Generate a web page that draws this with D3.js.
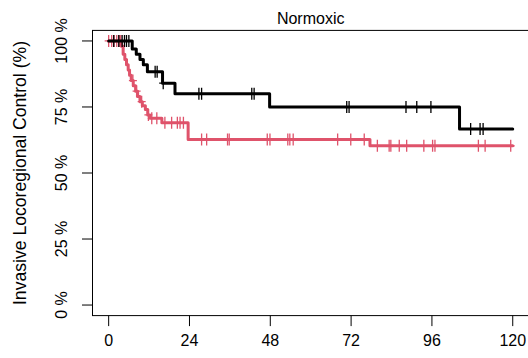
<!DOCTYPE html>
<html>
<head>
<meta charset="utf-8">
<script src="https://cdn.jsdelivr.net/npm/d3@7"></script>
<style>
html,body{margin:0;padding:0;background:#fff;}
svg{display:block;font-family:"Liberation Sans",Arial,sans-serif;}
</style>
</head>
<body>
<svg id="chart" width="528" height="358"></svg>
<script>
// ---- data (months, survival fraction) ----
const title = "Normoxic";
const yTitle = "Invasive Locoregional Control (%)";
const xTicks = [0, 24, 48, 72, 96, 120];
const yTicks = [0, 0.25, 0.5, 0.75, 1];
const yTickLabels = ["0 %", "25 %", "50 %", "75 %", "100 %"];

// black group: event steps [time, survival after step]
const blackSteps = [[0,1],[7.0,0.97],[8.2,0.95],[9.3,0.93],[10.3,0.91],[11.5,0.883],[16.0,0.84],[19.7,0.80],[47.8,0.75],[104.2,0.667],[120,0.667]];
const blackCensor = [1.5,3.0,4.0,4.7,5.3,6.0,13.8,14.4,16.2,26.8,27.6,42.5,43.2,70.7,71.4,88.3,91.5,95.7,107.5,110.3,111.2];

// red group
const redSteps = [[0,1],[3.8,0.98],[4.3,0.95],[4.8,0.93],[5.3,0.91],[5.8,0.89],[6.2,0.87],[6.7,0.85],[7.3,0.83],[8.0,0.81],[8.6,0.79],[9.3,0.77],[10.0,0.755],[10.9,0.74],[11.6,0.72],[12.3,0.707],[15.8,0.69],[23.6,0.627],[77.6,0.603],[120,0.603]];
const redCensor = [0.0,0.9,1.6,2.4,3.2,3.6,7.2,8.3,9.8,11.8,12.8,14.3,16.7,18.7,20.4,21.2,22.2,27.6,29.1,35.3,35.8,47.1,47.9,53.2,53.8,54.8,68.0,71.9,75.9,79.8,83.3,83.8,86.3,88.5,93.6,96.2,96.9,109.8,111.8,119.4];

const series = [
  {steps: redSteps, censor: redCensor, color: "#DF536B"},
  {steps: blackSteps, censor: blackCensor, color: "#000000"}
];

// ---- layout ----
const svg = d3.select("#chart");
const x = d3.scaleLinear().domain([-4.8, 124.8]).range([92.5, 528.9]);
const y = d3.scaleLinear().domain([-0.04, 1.04]).range([315.6, 30.4]);

// box
svg.append("rect")
  .attr("x", x(-4.8)).attr("y", y(1.04))
  .attr("width", x(124.8) - x(-4.8)).attr("height", y(-0.04) - y(1.04))
  .attr("fill", "none").attr("stroke", "#000").attr("stroke-width", 1);

// title
svg.append("text").attr("x", (x(-4.8) + x(124.8)) / 2).attr("y", 24)
  .attr("text-anchor", "middle").attr("font-size", 16).text(title);

// x axis ticks
const gx = svg.append("g");
gx.selectAll("line").data(xTicks).join("line")
  .attr("x1", d => x(d)).attr("x2", d => x(d))
  .attr("y1", y(-0.04)).attr("y2", y(-0.04) + 10.5)
  .attr("stroke", "#000");
gx.selectAll("text").data(xTicks).join("text")
  .attr("x", d => x(d)).attr("y", 346)
  .attr("text-anchor", "middle").attr("font-size", 16).text(d => d);

// y axis ticks
const gy = svg.append("g");
gy.selectAll("line").data(yTicks).join("line")
  .attr("x1", x(-4.8) - 10.5).attr("x2", x(-4.8))
  .attr("y1", d => y(d)).attr("y2", d => y(d))
  .attr("stroke", "#000");
gy.selectAll("text").data(yTicks).join("text")
  .attr("transform", d => `translate(67,${y(d)}) rotate(-90)`)
  .attr("text-anchor", "middle").attr("font-size", 16)
  .text((d, i) => yTickLabels[i]);

// y title
svg.append("text")
  .attr("transform", `translate(26,${(y(0) + y(1)) / 2}) rotate(-90)`)
  .attr("text-anchor", "middle").attr("font-size", 17.6).text(yTitle);

// curves
const line = d3.line().x(d => x(d[0])).y(d => y(d[1])).curve(d3.curveStepAfter);
function survAt(steps, t) {
  let s = steps[0][1];
  for (const st of steps) { if (st[0] <= t) s = st[1]; }
  return s;
}
series.forEach(sr => {
  svg.append("path").datum(sr.steps).attr("d", line)
    .attr("fill", "none").attr("stroke", sr.color).attr("stroke-width", 3)
    .attr("stroke-linejoin", "round").attr("stroke-linecap", "round");
  const g = svg.append("g");
  g.selectAll("path").data(sr.censor).join("path")
    .attr("transform", t => `translate(${x(t)},${y(survAt(sr.steps, t))})`)
    .attr("d", "M0,-6V6M-4,0H4")
    .attr("stroke", sr.color).attr("stroke-width", 1.3).attr("fill", "none");
});
</script>
</body>
</html>
